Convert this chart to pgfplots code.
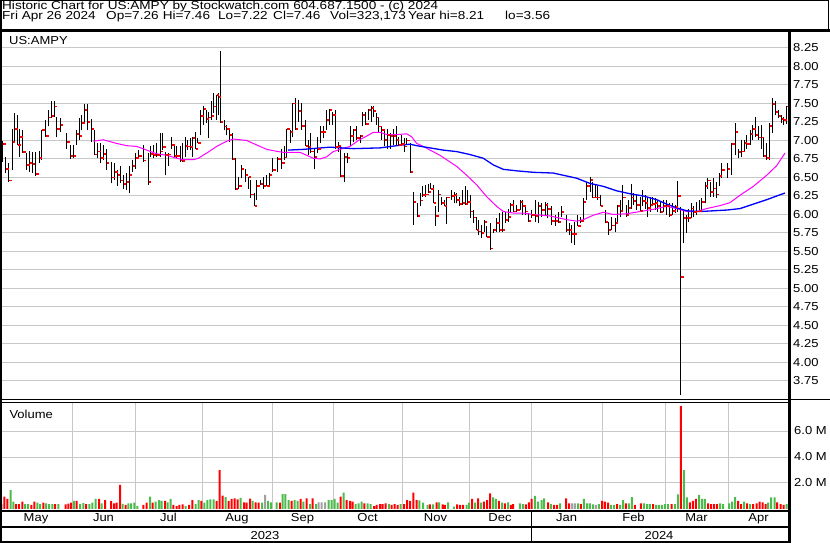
\documentclass[border=0pt]{standalone}
\usepackage{fontspec}
\setmainfont[FakeStretch=1.12]{Liberation Sans}
\newfontfamily\hdrfont[FakeStretch=1.17]{Liberation Sans}
\usepackage{pgfplots}
\usepackage{pgfplotstable}
\pgfplotsset{compat=1.18}
\definecolor{gridgrey}{RGB}{200,200,200}
\definecolor{volred}{RGB}{255,0,0}
\definecolor{volgreen}{RGB}{76,187,76}
\definecolor{volgrey}{RGB}{160,160,160}
\definecolor{maline}{RGB}{255,0,255}
\definecolor{mbline}{RGB}{0,0,255}
\pgfdeclareplotmark{closetick}{\pgfpathrectangle{\pgfqpoint{0.5pt}{-0.9pt}}{\pgfqpoint{2.6pt}{1.8pt}}\pgfusepathqfill}

\pgfplotstableread{
x h l c
3.0 6.99 6.71 6.95
5.7 6.78 6.56 6.62
9.0 6.69 6.44 6.46
12.3 7.16 6.60 6.98
14.7 7.37 6.98 7.15
17.7 7.34 6.94 6.94
20.0 7.16 6.78 7.05
22.7 7.14 6.83 6.84
26.7 6.83 6.60 6.67
29.3 6.86 6.58 6.70
32.3 6.85 6.56 6.68
35.7 6.85 6.52 6.55
39.0 6.86 6.70 6.76
41.7 7.14 6.74 7.14
45.7 7.28 7.05 7.06
48.3 7.41 7.19 7.31
51.3 7.53 7.30 7.33
54.0 7.53 7.32 7.46
56.7 7.32 7.05 7.15
60.0 7.30 7.12 7.21
66.7 7.10 6.89 6.98
70.0 6.94 6.75 6.79
73.3 6.94 6.76 6.79
76.0 7.14 6.94 7.09
79.3 7.30 7.01 7.06
81.7 7.34 7.14 7.24
84.3 7.49 7.25 7.41
87.3 7.49 7.14 7.25
91.3 7.29 6.98 7.15
94.3 7.14 6.80 6.81
97.7 6.96 6.76 6.85
100.7 6.96 6.69 6.76
103.3 6.94 6.74 6.82
106.0 6.89 6.60 6.70
111.7 6.71 6.42 6.50
114.7 6.69 6.47 6.57
117.3 6.60 6.38 6.53
120.0 6.65 6.42 6.46
123.0 6.53 6.35 6.41
126.0 6.56 6.33 6.44
129.0 6.65 6.29 6.53
132.3 6.74 6.58 6.65
135.5 6.83 6.62 6.76
138.5 6.87 6.76 6.79
143.3 6.94 6.71 6.73
148.0 6.83 6.40 6.44
150.7 6.92 6.78 6.82
153.3 6.94 6.76 6.80
156.7 6.96 6.78 6.80
160.0 7.10 6.78 6.85
162.7 7.10 6.87 6.91
165.7 6.85 6.53 6.80
168.3 6.83 6.65 6.81
171.7 7.05 6.89 6.94
174.0 6.92 6.76 6.79
176.7 6.92 6.76 6.79
180.0 6.92 6.71 6.73
182.3 6.96 6.71 6.72
185.0 7.05 6.78 6.93
187.7 7.01 6.87 6.92
190.0 7.03 6.87 6.91
192.3 7.05 6.78 7.03
195.0 7.12 6.89 6.89
197.7 7.03 6.96 6.97
200.7 7.41 7.07 7.33
203.3 7.46 7.21 7.43
206.0 7.41 7.23 7.29
208.3 7.39 7.03 7.31
211.0 7.53 7.28 7.33
213.3 7.64 7.37 7.46
216.0 7.62 7.28 7.61
218.3 7.64 7.34 7.59
220.0 8.21 7.23 7.25
224.0 7.28 7.14 7.19
226.7 7.21 7.07 7.16
229.3 7.14 6.98 7.07
232.3 7.10 6.74 6.75
235.3 6.76 6.33 6.34
238.7 6.51 6.35 6.38
241.3 6.67 6.49 6.62
245.0 6.62 6.44 6.53
248.0 6.51 6.35 6.51
250.7 6.47 6.22 6.27
254.3 6.29 6.11 6.11
256.7 6.47 6.20 6.38
260.0 6.47 6.40 6.41
263.3 6.51 6.35 6.38
266.7 6.53 6.38 6.38
269.3 6.56 6.40 6.53
272.7 6.76 6.58 6.60
277.7 6.78 6.58 6.75
281.7 6.89 6.62 6.70
284.0 6.92 6.74 6.77
286.7 7.16 6.78 7.15
290.0 7.14 6.96 7.11
292.7 7.50 7.05 7.50
295.0 7.57 7.14 7.16
298.3 7.55 7.25 7.40
301.7 7.50 7.14 7.20
305.0 7.28 6.92 6.93
308.3 7.01 6.80 6.91
310.7 7.10 6.83 6.85
314.3 6.89 6.61 6.78
317.7 7.05 6.83 6.88
320.7 7.19 6.96 7.12
323.3 7.19 7.03 7.12
326.0 7.41 7.14 7.28
329.3 7.43 7.21 7.41
332.7 7.39 7.21 7.34
335.7 7.41 6.89 6.91
338.3 6.98 6.85 6.93
340.7 6.94 6.51 6.52
344.0 6.83 6.44 6.78
347.3 6.83 6.69 6.76
350.7 7.19 6.92 7.06
353.3 7.16 6.98 7.14
356.7 7.19 7.01 7.03
360.0 7.07 6.96 7.06
362.3 7.39 7.19 7.34
365.7 7.39 7.21 7.22
368.3 7.43 7.28 7.41
371.0 7.46 7.25 7.44
373.3 7.46 7.32 7.40
376.0 7.37 7.21 7.31
378.7 7.30 7.10 7.19
381.7 7.19 7.01 7.14
384.3 7.14 6.92 7.01
387.3 7.16 6.89 7.07
390.0 7.10 6.89 7.06
393.3 7.16 6.94 7.06
396.0 7.19 6.94 7.01
398.7 7.05 6.92 6.94
401.7 7.07 6.92 6.95
404.3 7.03 6.85 6.92
406.7 7.03 6.94 7.00
410.0 6.96 6.56 6.57
413.3 6.30 5.86 6.17
417.3 6.15 5.97 5.98
420.0 6.29 6.11 6.19
422.7 6.38 6.24 6.26
425.7 6.40 6.24 6.27
428.3 6.41 6.29 6.30
430.7 6.43 6.34 6.34
433.3 6.40 6.15 6.15
435.7 6.11 5.84 5.98
438.3 6.33 6.04 6.27
441.7 6.24 6.13 6.15
444.0 6.20 6.11 6.12
446.7 6.24 5.87 6.23
451.7 6.33 6.20 6.25
454.3 6.31 6.15 6.26
456.7 6.29 6.15 6.20
459.3 6.24 6.12 6.14
462.3 6.33 6.13 6.15
465.0 6.38 6.13 6.14
467.7 6.33 6.15 6.17
470.0 6.26 5.95 6.04
473.3 6.06 5.88 5.96
476.0 5.97 5.79 5.79
478.3 5.93 5.72 5.77
481.0 5.86 5.68 5.75
484.3 5.93 5.77 5.90
486.7 5.84 5.70 5.70
490.0 5.88 5.52 5.54
493.3 5.81 5.75 5.79
496.7 5.95 5.77 5.89
499.3 6.02 5.77 5.79
502.3 6.04 5.77 5.79
505.0 6.04 5.88 5.93
508.3 6.08 5.90 5.97
510.7 6.15 6.02 6.13
513.3 6.20 6.04 6.04
516.7 6.13 6.04 6.06
520.0 6.20 6.06 6.17
522.7 6.20 5.99 6.12
525.0 6.11 5.99 6.04
528.3 6.02 5.90 5.91
531.7 6.06 5.95 5.99
535.0 6.20 5.90 5.98
538.3 6.17 5.88 6.12
541.7 6.15 5.97 6.06
545.0 6.17 5.99 6.13
547.7 6.15 5.95 6.07
551.7 6.11 5.86 5.91
555.0 5.99 5.84 5.91
558.3 6.04 5.88 5.90
561.0 6.11 5.97 6.03
566.0 5.99 5.77 5.79
569.3 5.88 5.72 5.79
571.7 5.86 5.61 5.74
574.3 5.90 5.59 5.74
577.7 5.99 5.84 5.84
580.7 5.97 5.88 5.91
583.3 6.22 5.93 6.17
586.7 6.44 6.20 6.39
590.0 6.51 6.31 6.47
592.7 6.44 6.22 6.23
595.0 6.40 6.22 6.23
597.3 6.38 6.20 6.23
600.0 6.26 6.11 6.11
605.0 6.06 5.88 5.90
608.3 5.90 5.72 5.79
611.7 5.97 5.79 5.85
615.0 5.95 5.77 5.89
617.3 6.13 5.90 6.11
620.0 6.20 5.97 6.05
622.7 6.40 6.04 6.23
626.0 6.13 5.97 5.99
628.3 6.20 5.99 6.09
631.0 6.41 6.08 6.23
633.3 6.29 6.13 6.18
636.7 6.26 6.06 6.13
640.0 6.24 6.04 6.05
642.7 6.33 6.11 6.18
645.0 6.26 6.08 6.15
647.7 6.24 5.97 6.09
650.0 6.24 6.04 6.13
652.7 6.24 6.11 6.14
655.0 6.22 6.06 6.15
657.3 6.20 6.04 6.11
660.0 6.17 6.02 6.03
663.3 6.20 6.04 6.11
666.7 6.20 5.99 6.12
669.3 6.15 5.97 5.99
672.7 6.15 5.99 6.05
675.0 6.13 6.02 6.10
677.7 6.45 6.04 6.25
680.7 6.10 3.56 5.15
683.3 6.08 5.61 5.95
686.0 5.99 5.75 5.95
688.3 6.08 5.90 5.95
691.0 6.15 5.95 6.08
693.7 6.11 5.97 6.03
696.7 6.17 5.99 6.04
699.3 6.20 6.04 6.05
701.7 6.22 6.04 6.17
705.0 6.44 6.15 6.38
707.7 6.49 6.35 6.46
710.7 6.44 6.24 6.30
713.3 6.49 6.24 6.35
716.0 6.44 6.22 6.27
719.0 6.56 6.38 6.52
721.7 6.69 6.49 6.60
727.3 6.69 6.49 6.62
731.7 6.96 6.53 6.95
735.0 7.23 6.80 7.11
738.3 6.89 6.76 6.84
741.7 7.01 6.78 6.85
744.3 7.01 6.85 6.97
746.7 7.07 6.89 6.95
750.0 7.14 6.94 7.09
752.7 7.21 7.01 7.15
755.3 7.32 7.05 7.07
758.3 7.19 7.01 7.04
761.0 7.21 6.89 7.04
763.3 7.05 6.78 6.79
766.7 6.96 6.74 6.76
769.3 7.23 6.74 7.20
772.3 7.57 7.10 7.49
775.3 7.53 7.34 7.38
778.3 7.41 7.30 7.33
781.0 7.34 7.23 7.29
783.7 7.32 7.21 7.28
786.0 7.46 7.22 7.46
}\pricedata

\pgfplotstableread{
x v
4.3 0.95
7.3 0.77
16 0.38
19 0.38
22.3 0.56
31.3 0.31
34.3 0.56
43.3 0.49
55 0.38
65.7 0.36
68.3 0.41
71 0.49
76.7 0.62
86 0.38
99 0.77
105 0.69
111 0.62
114 0.44
116.7 0.49
120 1.85
125.7 0.31
143.3 0.31
146.7 0.49
152.7 0.49
165 0.62
173.3 0.31
176.7 0.23
179.3 0.31
182.7 0.36
189 0.31
192.3 0.69
201.3 0.62
216.7 0.62
219.7 3.00
222.7 1.03
228.7 0.62
231.7 0.77
234.7 0.82
237.7 0.74
244 0.51
246.7 0.49
250 0.79
255.7 0.51
258.7 0.49
280 0.49
291.7 0.62
300.7 0.77
306.7 0.82
312.7 0.82
340.7 0.95
346.7 0.69
350 0.62
352.7 0.56
364.3 0.44
374 0.23
376.7 0.31
380 0.38
382.7 0.38
385.7 0.44
391.7 0.31
394.7 0.38
397.7 0.31
404 0.38
407 0.69
410 0.62
413.3 1.26
416.7 0.69
429.8 0.36
436.5 0.51
442.5 0.36
444.8 0.31
457.2 0.36
460.2 0.31
463.2 0.31
472.2 0.77
478.2 0.82
483.8 0.56
487.2 0.69
490.2 1.21
498.8 0.62
504.8 0.44
510.8 0.31
513.2 0.38
525.8 0.36
528.8 0.51
531.5 0.77
548.2 0.51
554.2 0.31
557.2 0.31
566.2 0.82
569.2 0.44
580.8 0.38
602.2 0.62
604.8 0.56
608.2 0.49
617.2 0.38
625.8 0.44
634.8 0.31
640.8 0.44
653.2 0.38
671.5 0.38
680.8 7.92
689.8 0.51
692.8 0.62
695.8 0.77
708.2 0.44
711.2 0.38
714.2 0.38
717.2 0.38
738.2 0.62
741.2 0.38
747.2 0.44
753.2 0.38
756.5 0.44
759.5 0.56
762.5 0.51
765.5 0.38
777.2 0.51
780.5 0.38
783.5 0.31
}\volreddata

\pgfplotstableread{
x v
10.7 1.46
13.3 0.56
25 0.38
28 0.38
37.3 0.49
40 0.38
46 0.44
49 0.38
52.3 0.38
58.3 0.38
74 0.62
80 0.38
83.3 0.46
89.3 0.38
92.3 0.49
95.7 0.77
101.7 0.44
122.7 0.38
128.3 0.44
131 0.44
134.3 0.49
137.3 0.23
150 0.95
155.7 0.56
159 0.69
161.7 0.62
167.7 0.51
170.7 0.77
185.7 0.23
195.7 0.38
198.7 0.69
204.3 0.49
207.3 0.69
210.3 0.74
213.7 0.74
225.7 0.92
240.7 0.85
252.7 0.62
262 0.49
268 0.62
271 0.51
276.7 0.51
282.7 1.15
285.3 1.15
288.7 0.69
294.7 0.69
297.7 0.62
303.3 0.56
310 0.38
316 0.38
328.7 0.69
331.7 0.69
334.7 0.77
337.7 0.49
343.7 1.26
355.7 0.38
358.7 0.44
361.7 0.56
367.7 0.44
370.7 0.38
389 0.38
400.7 0.38
419.3 0.67
423.2 0.49
427.5 0.31
433.2 0.36
439.2 0.51
448.2 0.51
453.8 0.18
466.5 0.31
469.2 0.49
475.2 0.49
480.8 0.49
493.2 0.90
495.8 0.77
502.2 0.49
508.2 0.51
519.8 0.44
523.2 0.38
534.8 1.00
538.2 0.56
541.5 0.69
544.2 0.82
550.8 0.38
560.2 0.44
578.2 0.44
583.8 0.77
587.2 0.44
589.8 0.44
593.2 0.36
598.8 0.38
610.8 0.31
614.2 0.31
620.2 0.31
623.2 0.69
628.8 0.44
631.8 0.92
643.8 0.44
647.2 0.38
649.8 0.38
656.2 0.31
658.8 0.31
661.8 0.31
664.8 0.38
668.2 0.38
674.8 0.38
678.2 1.13
683.8 3.00
686.8 0.90
699.2 1.08
702.2 0.77
704.8 0.77
720.2 0.44
723.2 0.38
729.2 0.44
732.2 0.56
735.2 0.92
744.2 0.56
750.2 0.38
768.2 0.49
771.2 0.90
774.5 0.90
786.5 0.38
}\volgreendata

\pgfplotstableread{
x v
1.7 0.38
265 1.08
318.7 0.51
321.7 0.51
325 0.51
572.2 0.44
574.8 0.44
595.8 0.31
}\volgreydata

\begin{document}
\begin{tikzpicture}[x=1pt,y=1pt,font=\fontsize{11.6}{13}\selectfont]
\useasboundingbox (0,0) rectangle (830,543);
\fill[white] (0,0) rectangle (830,543);

% price panel
\begin{axis}[
  at={(1pt,143pt)}, anchor=south west, scale only axis,
  width=788pt, height=368pt,
  xmin=1, xmax=789, ymin=3.4932, ymax=8.4662,
  axis line style={draw=none}, major tick length=0pt, minor tick length=0pt,
  tick style={draw=none},
  xtick=\empty,
  minor xtick={72,135,202,272,333,402,469,531,602,665,728},
  xminorgrids, ymajorgrids,
  grid style={gridgrey, line width=1pt},
  minor grid style={gridgrey, line width=1pt},
  ytick={3.75,4,4.25,4.5,4.75,5,5.25,5.5,5.75,6,6.25,6.5,6.75,7,7.25,7.5,7.75,8,8.25},
  yticklabels={3.75,4.00,4.25,4.50,4.75,5.00,5.25,5.50,5.75,6.00,6.25,6.50,6.75,7.00,7.25,7.50,7.75,8.00,8.25},
  yticklabel pos=right,
  yticklabel style={anchor=west, inner sep=0pt, xshift=4pt},
]
\addplot[draw=none, mark=none, forget plot,
  error bars/.cd, y dir=plus, y explicit, error mark=none,
  error bar style={draw=black, line width=1pt, solid}]
  table[x=x, y=l, y error expr=\thisrow{h}-\thisrow{l}] {\pricedata};
\addplot[maline, line width=1pt, mark=none] coordinates {
(93.3,6.99) (103.3,7.01) (116.7,6.96) (126.7,6.93) (136.7,6.92) (146.7,6.87) (156.7,6.82) (166.7,6.80) (176.7,6.76) (183.3,6.74) (193.3,6.74) (198.3,6.76) (206.7,6.83) (216.7,6.92) (226.7,6.99) (233.3,7.02) (246.7,7.00) (256.7,6.94) (266.7,6.88) (278.3,6.85) (283.3,6.84) (300,6.84) (306.7,6.80) (313.3,6.76) (320,6.75) (326.7,6.78) (333.3,6.85) (340,6.88) (350,6.92) (358.3,7.00) (366.7,7.06) (373.3,7.11) (380,7.11) (386.7,7.08) (396.7,7.08) (406.7,7.09) (411.7,7.05) (416.7,6.96) (423.3,6.92) (430,6.87) (440,6.80) (450,6.71) (456.7,6.65) (466.7,6.53) (476.7,6.40) (486.7,6.24) (496.7,6.11) (503.3,6.04) (513.3,6.02) (523.3,6.02) (533.3,6.00) (550,5.98) (553.3,5.97) (566.7,5.93) (576.7,5.91) (583.3,5.93) (593.3,5.99) (603.3,6.03) (613.3,6.00) (626.7,6.01) (640,6.04) (653.3,6.07) (666.7,6.11) (676.7,6.08) (686.7,6.04) (696.7,6.04) (706.7,6.08) (720,6.12) (730,6.16) (740,6.26) (753.3,6.38) (766.7,6.53) (776.7,6.66) (785,6.83)};
\addplot[mbline, line width=1.3pt, mark=none] coordinates {
(288,6.87) (303.3,6.88) (330,6.91) (353.3,6.89) (380,6.90) (396.7,6.93) (410,6.95) (416.7,6.93) (430,6.90) (443.3,6.87) (456.7,6.85) (470,6.81) (483.3,6.76) (493.3,6.67) (503.3,6.61) (516.7,6.59) (533.3,6.57) (553.3,6.56) (566.7,6.52) (576.7,6.49) (590,6.42) (603.3,6.38) (616.7,6.32) (630,6.28) (643.3,6.25) (656.7,6.20) (666.7,6.14) (676.7,6.09) (686.7,6.05) (700,6.04) (713.3,6.05) (726.7,6.06) (740,6.08) (753.3,6.14) (766.7,6.20) (776.7,6.25) (785,6.29)};
\addplot[only marks, mark=closetick, color=red] table[x=x, y=c] {\pricedata};
\end{axis}

% volume panel
\begin{axis}[
  at={(1pt,34pt)}, anchor=south west, scale only axis,
  width=788pt, height=106.7pt,
  xmin=1, xmax=789, ymin=0, ymax=8.208,
  axis line style={draw=none}, major tick length=0pt, minor tick length=0pt,
  tick style={draw=none},
  xtick={36,103.5,168.5,237,302.5,367.5,435.5,500,566.5,633.5,696.5,758.5},
  xticklabels={May,Jun,Jul,Aug,Sep,Oct,Nov,Dec,Jan,Feb,Mar,Apr},
  xticklabel style={anchor=base, yshift=-13pt, inner sep=0pt},
  minor xtick={72,135,202,272,333,402,469,531,602,665,728},
  xminorgrids, ymajorgrids,
  grid style={gridgrey, line width=1pt},
  minor grid style={gridgrey, line width=1pt},
  ytick={2,4,6},
  yticklabels={2.0 M,4.0 M,6.0 M},
  yticklabel pos=right,
  yticklabel style={anchor=west, inner sep=0pt, xshift=5pt},
]
\addplot[ybar, bar width=2pt, bar shift=0pt, fill=volred, draw=none] table[x=x, y=v] {\volreddata};
\addplot[ybar, bar width=2pt, bar shift=0pt, fill=volgreen, draw=none] table[x=x, y=v] {\volgreendata};
\addplot[ybar, bar width=2pt, bar shift=0pt, fill=volgrey, draw=none] table[x=x, y=v] {\volgreydata};
\end{axis}

% frame
\draw[line width=1pt] (0.5,542.5) -- (828,542.5) -- (828,513);
\draw[line width=2.4pt] (0,512.5) -- (830,512.5);
\draw[line width=2.4pt] (1.2,0) -- (1.2,543);
\draw[line width=2.4pt] (789.5,0) -- (789.5,513);
\draw[line width=1pt] (0,143) -- (830,143);
\draw[line width=1pt] (0,140.5) -- (789.5,140.5);
\draw[line width=2.3pt] (0,32) -- (789.5,32);
\draw[line width=2pt] (0,16.3) -- (789.5,16.3);
\draw[line width=2.4pt] (0,1.2) -- (789.5,1.2);
\draw[line width=1.3pt] (531.3,1.2) -- (531.3,32);

% texts
\begin{scope}[font=\hdrfont\fontsize{11.6}{13}\selectfont]
\node[anchor=base west, inner sep=0pt] at (2,533.4) {Historic Chart for US:AMPY by Stockwatch.com 604.687.1500 - (c) 2024};
\node[anchor=base west, inner sep=0pt] at (2,523.4) {Fri Apr 26 2024};
\node[anchor=base west, inner sep=0pt] at (106,523.4) {Op=7.26};
\node[anchor=base west, inner sep=0pt] at (162.7,523.4) {Hi=7.46};
\node[anchor=base west, inner sep=0pt] at (218,523.4) {Lo=7.22};
\node[anchor=base west, inner sep=0pt] at (273,523.4) {Cl=7.46};
\node[anchor=base west, inner sep=0pt] at (330,523.4) {Vol=323,173};
\node[anchor=base west, inner sep=0pt] at (408,523.4) {Year hi=8.21};
\node[anchor=base west, inner sep=0pt] at (505,523.4) {lo=3.56};
\end{scope}
\node[anchor=base west, inner sep=0pt] at (9,498.5) {US:AMPY};
\node[anchor=base west, inner sep=0pt] at (9.3,124.7) {Volume};
\node[anchor=base, inner sep=0pt] at (265,3.5) {2023};
\node[anchor=base, inner sep=0pt] at (659,3.5) {2024};
\end{tikzpicture}
\end{document}
